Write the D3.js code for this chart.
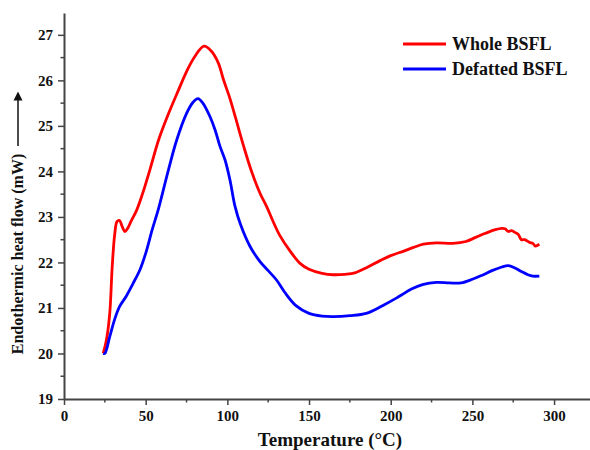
<!DOCTYPE html>
<html lang="en">
<head>
<meta charset="UTF-8">
<title>DSC</title>
<style>
  body { margin: 0; background: #fff; }
  text { font-family: "Liberation Serif", "Times New Roman", serif; font-weight: bold; fill: #111; }
</style>
</head>
<body>
<svg width="590" height="450"></svg>
<script src="https://d3js.org/d3.v7.min.js"></script>
<script>
// temperature (°C) and heat flow (mW)
var wholeT = [24, 26, 28, 29.5, 31, 32.5, 34, 35.5, 37.3, 39, 41, 44.5, 48, 52.7, 58, 64.9, 70, 75.1, 80, 85.7, 90, 94.5, 97.6, 101.6, 105, 110, 115, 120, 124, 128, 132, 138, 144.5, 150, 158, 165, 172, 178, 186, 193.5, 200, 208, 214, 220, 228, 238, 246, 252, 258, 264, 268, 270, 272, 274, 276, 278, 280, 282, 285, 287, 288.5, 290, 291];
var wholeV = [20.0, 20.3, 20.88, 21.9, 22.6, 22.9, 22.92, 22.8, 22.68, 22.75, 22.9, 23.15, 23.5, 24.05, 24.7, 25.35, 25.78, 26.2, 26.52, 26.75, 26.65, 26.38, 26.02, 25.6, 25.18, 24.55, 23.98, 23.52, 23.23, 22.9, 22.6, 22.27, 21.98, 21.85, 21.76, 21.73, 21.74, 21.77, 21.9, 22.04, 22.15, 22.25, 22.33, 22.4, 22.43, 22.42, 22.46, 22.55, 22.64, 22.72, 22.75, 22.74, 22.68, 22.7, 22.66, 22.62, 22.5, 22.5, 22.44, 22.42, 22.36, 22.38, 22.4];

var defatT = [24, 25, 28, 31, 34, 38, 42, 46.5, 50, 54, 58, 63.9, 69, 75.1, 79, 82, 85, 89.4, 92.5, 95.5, 98.6, 101.6, 104.7, 107.8, 113.9, 120, 125, 130, 135, 142, 150, 158, 165, 175, 185, 195, 205, 213, 220, 228, 236, 243, 250, 256, 262, 268, 272, 276, 280, 284, 287, 291];
var defatV = [20.0, 20.0, 20.37, 20.75, 21.03, 21.25, 21.52, 21.84, 22.2, 22.72, 23.2, 24.03, 24.69, 25.28, 25.52, 25.6, 25.5, 25.2, 24.91, 24.55, 24.25, 23.81, 23.23, 22.86, 22.35, 22.02, 21.82, 21.62, 21.35, 21.05, 20.88, 20.82, 20.81, 20.83, 20.88, 21.05, 21.25, 21.42, 21.52, 21.56, 21.55, 21.55, 21.63, 21.72, 21.82, 21.9, 21.93, 21.88, 21.8, 21.73, 21.7, 21.7];

var seriesNames = ["Whole BSFL", "Defatted BSFL"];
var seriesColors = ["#ff0000", "#0000ff"];

var xTicks = [0, 50, 100, 150, 200, 250, 300];
var yTicks = [19, 20, 21, 22, 23, 24, 25, 26, 27];

var svg = d3.select("svg");
var plotLeft = 64, plotBottom = 399, plotRight = 590, plotTop = 13;

var x = d3.scaleLinear().domain([0, 322]).range([plotLeft, plotRight]);
var y = d3.scaleLinear().domain([19, 27.48]).range([plotBottom, plotTop]);

var axisColor = "#444";

// minor ticks
var xMinor = d3.range(25, 322, 50);
var yMinor = d3.range(19.5, 27.5, 1);

var gx = svg.append("g").attr("transform", "translate(0," + plotBottom + ")");
gx.call(d3.axisBottom(x).tickValues(xTicks).tickSize(6).tickSizeOuter(0).tickPadding(5));
gx.append("g").selectAll("line").data(xMinor).enter().append("line")
  .attr("x1", function(d) { return x(d); }).attr("x2", function(d) { return x(d); })
  .attr("y1", 0).attr("y2", 3.5);

var gy = svg.append("g").attr("transform", "translate(" + plotLeft + ",0)");
gy.call(d3.axisLeft(y).tickValues(yTicks).tickSize(6).tickSizeOuter(0).tickPadding(5));
gy.append("g").selectAll("line").data(yMinor).enter().append("line")
  .attr("y1", function(d) { return y(d); }).attr("y2", function(d) { return y(d); })
  .attr("x1", 0).attr("x2", -3.5);

svg.selectAll(".domain").attr("stroke", axisColor).attr("stroke-width", 2);
svg.selectAll("g line").attr("stroke", axisColor).attr("stroke-width", 1.5);
svg.selectAll(".tick text")
  .style("font-family", "'Liberation Serif', serif")
  .style("font-weight", "bold")
  .style("font-size", "15px")
  .attr("fill", "#111");

// curves
var line = d3.line()
  .x(function(d) { return x(d[0]); })
  .y(function(d) { return y(d[1]); })
  .curve(d3.curveCatmullRom.alpha(0.5));

var curves = [d3.zip(wholeT, wholeV), d3.zip(defatT, defatV)];
svg.selectAll(".curve").data(curves).enter().append("path")
  .attr("class", "curve")
  .attr("d", line)
  .attr("fill", "none")
  .attr("stroke", function(d, i) { return seriesColors[i]; })
  .attr("stroke-width", 2.8)
  .attr("stroke-linejoin", "round");

// legend
var lg = svg.append("g").selectAll("g").data(seriesNames).enter().append("g")
  .attr("transform", function(d, i) { return "translate(403," + (44 + i * 25) + ")"; });
lg.append("line").attr("x1", 0).attr("x2", 43).attr("y1", 0).attr("y2", 0)
  .attr("stroke", function(d, i) { return seriesColors[i]; }).attr("stroke-width", 2.8);
lg.append("text").attr("x", 49).attr("y", 6).style("font-size", "18px").text(function(d) { return d; });

// axis titles
svg.append("text").attr("x", 330).attr("y", 446).attr("text-anchor", "middle")
  .style("font-size", "19px").text("Temperature (°C)");
svg.append("text").attr("transform", "translate(23,254) rotate(-90)").attr("text-anchor", "middle")
  .style("font-size", "16px").text("Endothermic heat flow (mW)");

// arrow beside y title
svg.append("defs").append("marker").attr("id", "ah")
  .attr("viewBox", "0 0 10 10").attr("refX", 5).attr("refY", 5)
  .attr("markerWidth", 6).attr("markerHeight", 8).attr("orient", "auto")
  .append("path").attr("d", "M0,0 L10,5 L0,10 z").attr("fill", "#111");
svg.append("line").attr("x1", 18).attr("x2", 18).attr("y1", 146).attr("y2", 96)
  .attr("stroke", "#111").attr("stroke-width", 1.5).attr("marker-end", "url(#ah)");
</script>
</body>
</html>
